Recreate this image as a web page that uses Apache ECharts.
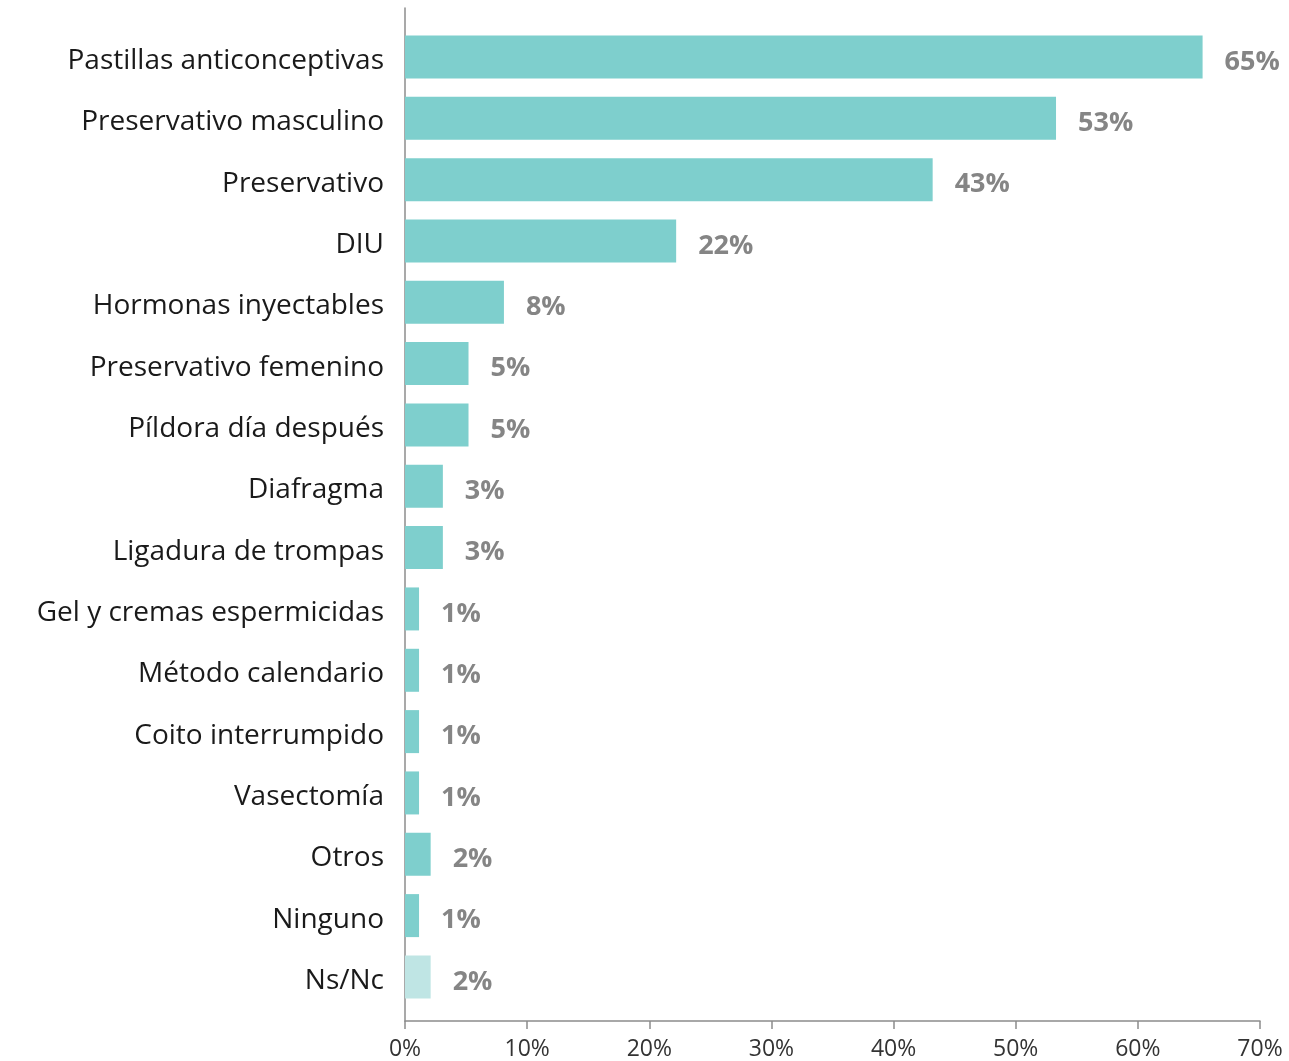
<!DOCTYPE html>
<html><head><meta charset="utf-8">
<script src="https://cdn.jsdelivr.net/npm/echarts@6/dist/echarts.min.js"></script>
<style>html,body{margin:0;padding:0;background:#fff}#c{width:1289px;height:1061px}</style>
</head><body><div id="c"></div>
<script>
const categories = ["Pastillas anticonceptivas","Preservativo masculino","Preservativo","DIU","Hormonas inyectables","Preservativo femenino","Píldora día después","Diafragma","Ligadura de trompas","Gel y cremas espermicidas","Método calendario","Coito interrumpido","Vasectomía","Otros","Ninguno","Ns/Nc"];
const values = [65.3,53.3,43.2,22.2,8.1,5.2,5.2,3.1,3.1,1.15,1.15,1.15,1.15,2.1,1.15,2.1];
const valueLabels = ["65%","53%","43%","22%","8%","5%","5%","3%","3%","1%","1%","1%","1%","2%","1%","2%"];
const xTicks = [0,10,20,30,40,50,60,70];
const FONT = '"Open Sans"';
const chart = echarts.init(document.getElementById('c'), null, {renderer:'canvas'});
chart.setOption({
  animation:false,
  grid:[
    {left:405, right:29, top:26.3, bottom:53.4, containLabel:false},
    {left:405, right:29, top:8, bottom:39, containLabel:false}
  ],
  xAxis:[
    {gridIndex:0, type:'value', min:xTicks[0], max:xTicks[xTicks.length-1], interval:10, show:false, splitLine:{show:false}},
    {gridIndex:1, type:'value', min:xTicks[0], max:xTicks[xTicks.length-1], interval:10,
     axisLine:{show:true, lineStyle:{color:'#8c8c8c', width:1.5}},
     axisTick:{show:true, length:8, lineStyle:{color:'#8c8c8c', width:1.5}},
     splitLine:{show:false},
     axisLabel:{fontFamily:FONT, fontSize:23, color:'#333', margin:17, formatter:v=>v+'%'}}
  ],
  yAxis:[
    {gridIndex:0, type:'category', data:categories, inverse:true,
     axisLine:{show:false}, axisTick:{show:false},
     axisLabel:{fontFamily:FONT, fontSize:28, color:'#1a1a1a', margin:21,
       formatter:v=>'{t|'+v+'}', rich:{t:{fontFamily:FONT, fontSize:28, color:'#1a1a1a', padding:[8,0,0,0]}}}},
    {gridIndex:1, type:'value', min:0, max:1,
     axisLine:{show:true, lineStyle:{color:'#8c8c8c', width:1.5}},
     axisTick:{show:false}, axisLabel:{show:false}, splitLine:{show:false}}
  ],
  series:[{
    type:'bar', xAxisIndex:0, yAxisIndex:0, barWidth:43,
    data: values.map((v,i)=>({value:v, itemStyle:{color: categories[i]==='Ns/Nc' ? '#bfe5e4' : '#7ecfcd'}})),
    label:{show:true, position:'right', distance:22, offset:[0,5],
      fontFamily:FONT, fontSize:27, fontWeight:'bold', color:'#858585',
      formatter:p=>valueLabels[p.dataIndex]}
  }]
});
</script></body></html>
